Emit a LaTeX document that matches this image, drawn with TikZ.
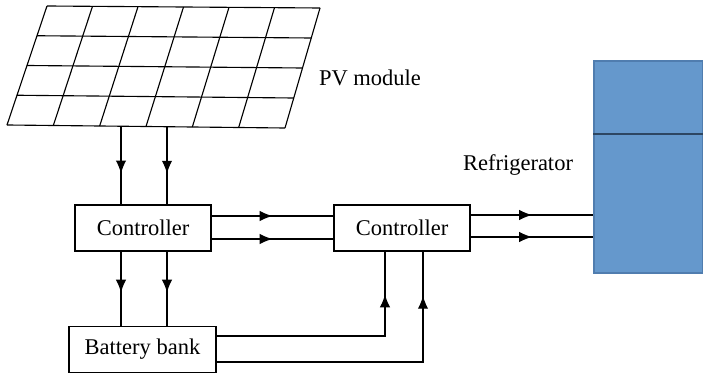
\documentclass[tikz,border=0pt]{standalone}
\usepackage{fontspec}
\setmainfont{Liberation Serif}
\usepackage{xcolor}
\usepackage{tikz}
\usetikzlibrary{arrows.meta,positioning,calc,decorations.markings}

\definecolor{fridgeblue}{RGB}{101,152,204}
\definecolor{fridgeedge}{RGB}{80,125,175}
\definecolor{fridgedoor}{RGB}{45,70,98}

\begin{document}
\begin{tikzpicture}[x=0.025cm,y=-0.025cm,>=Latex,
   font=\fontsize{16}{19}\selectfont,line width=0.8pt,
   box/.style={draw,minimum width=3.4cm,minimum height=1.15cm,inner sep=0pt},
   flow/.style={postaction={decorate},decoration={markings,
      mark=at position #1 with {\arrow{Latex[length=3.2mm,width=2.6mm]}}}},
   flow/.default=0.55]
  \useasboundingbox (0,0) rectangle (703,373);
  % PV module
  \coordinate (pA) at (47,6);
  \coordinate (pB) at (320,8);
  \coordinate (pC) at (285,128);
  \coordinate (pD) at (7,125);
  \foreach \i in {0,...,4}
    \draw ($(pA)!\i/4!(pD)$) -- ($(pB)!\i/4!(pC)$);
  \foreach \j in {0,...,6}
    \draw ($(pA)!\j/6!(pB)$) -- ($(pD)!\j/6!(pC)$);
  \node (pv) at (370,78) {PV module};
  \coordinate (w1) at (121,126.8);
  \coordinate (w2) at (167,127.3);

  \node[box] (c1) at (143,228) {Controller};
  \node[box] (c2) at (402,228) {Controller};
  \node[box,minimum width=3.675cm] (bb) at (142.5,349.5) {Battery bank};
  \node[draw=fridgeedge,fill=fridgeblue,minimum width=2.725cm,
        minimum height=5.3cm,inner sep=0pt] (fr) at (648.5,167) {};
  \draw[fridgedoor,line width=1.2pt] (fr.west |- 0,134) -- (fr.east |- 0,134);
  \node (rl) at (518,165) {Refrigerator};

  % panel -> controller -> battery
  \draw[flow=0.6] (w1) -- (w1 |- c1.north);
  \draw[flow=0.6] (w2) -- (w2 |- c1.north);
  \draw[flow] (c1.south -| w1) -- (bb.north -| w1);
  \draw[flow] (c1.south -| w2) -- (bb.north -| w2);

  % controller -> controller -> refrigerator
  \draw[flow=0.5] ($(c1.east)+(0,-12)$) -- ($(c2.west)+(0,-12)$);
  \draw[flow=0.5] ($(c1.east)+(0,11)$) -- ($(c2.west)+(0,11)$);
  \draw[flow=0.5] ($(c2.east)+(0,-13)$) -- ($(fr.west)+(0,48)$);
  \draw[flow=0.5] ($(c2.east)+(0,9)$) -- ($(fr.west)+(0,70)$);

  % battery -> controller
  \draw[flow=0.83] ($(bb.east)+(0,-13.5)$) -| ($(c2.south)+(-17,0)$);
  \draw[flow=0.86] ($(bb.east)+(0,12.5)$) -| ($(c2.south)+(21,0)$);
\end{tikzpicture}
\end{document}
